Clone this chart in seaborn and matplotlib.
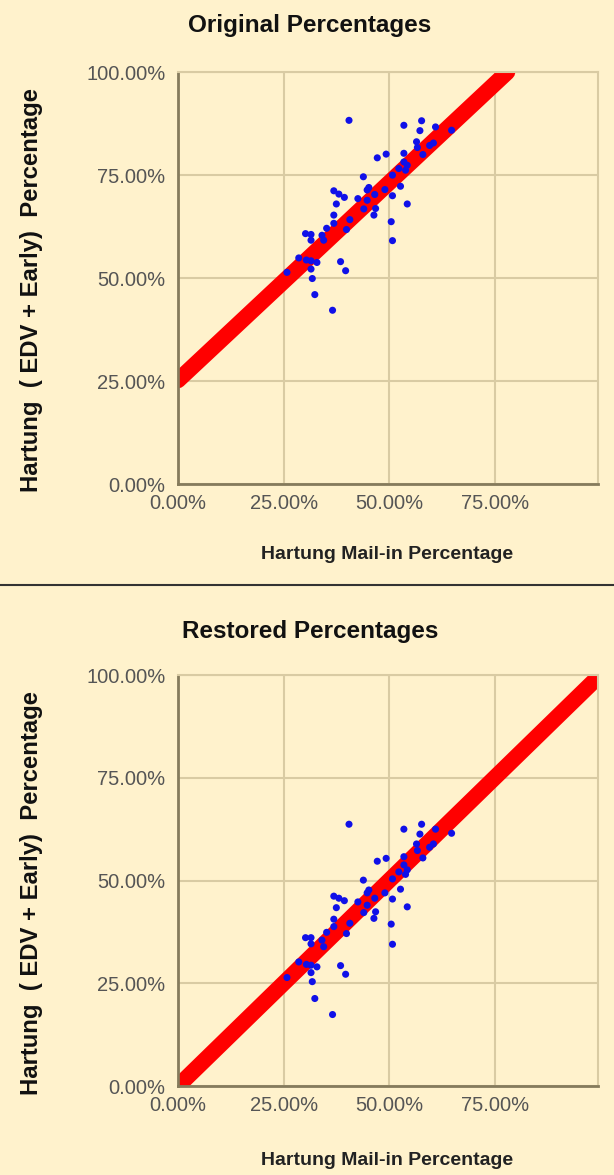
import numpy as np
import pandas as pd
import seaborn as sns
import matplotlib.pyplot as plt
from matplotlib.ticker import PercentFormatter
from matplotlib.lines import Line2D

# Mail-in share per precinct (same x for both panels)
mail_in = [0.405, 0.535, 0.577, 0.610, 0.648, 0.573, 0.565, 0.605, 0.596, 0.567,
           0.472, 0.493, 0.535, 0.535, 0.543, 0.523, 0.539, 0.508, 0.439, 0.527,
           0.452, 0.448, 0.369, 0.381, 0.394, 0.508, 0.426, 0.448, 0.375, 0.468,
           0.466, 0.543, 0.464, 0.369, 0.505, 0.407, 0.369, 0.399, 0.352, 0.302,
           0.315, 0.341, 0.345, 0.315, 0.508, 0.286, 0.304, 0.315, 0.329, 0.385,
           0.397, 0.315, 0.258, 0.318, 0.324, 0.366, 0.440, 0.490, 0.580]

# EDV + Early share, original
edv_orig = [0.883, 0.871, 0.882, 0.867, 0.859, 0.858, 0.831, 0.828, 0.822, 0.817,
            0.792, 0.801, 0.803, 0.782, 0.774, 0.766, 0.762, 0.750, 0.746, 0.723,
            0.720, 0.714, 0.712, 0.704, 0.696, 0.700, 0.693, 0.689, 0.680, 0.669,
            0.703, 0.680, 0.653, 0.653, 0.637, 0.642, 0.633, 0.618, 0.621, 0.608,
            0.606, 0.604, 0.592, 0.592, 0.591, 0.549, 0.544, 0.542, 0.538, 0.540,
            0.518, 0.522, 0.514, 0.499, 0.460, 0.422, 0.668, 0.715, 0.800]

# EDV + Early share, restored
edv_rest = [0.637, 0.625, 0.637, 0.625, 0.615, 0.613, 0.589, 0.589, 0.581, 0.573,
            0.547, 0.554, 0.558, 0.538, 0.526, 0.521, 0.515, 0.504, 0.501, 0.479,
            0.477, 0.470, 0.462, 0.457, 0.451, 0.455, 0.448, 0.440, 0.434, 0.424,
            0.457, 0.436, 0.408, 0.406, 0.394, 0.396, 0.388, 0.371, 0.374, 0.361,
            0.361, 0.355, 0.339, 0.346, 0.345, 0.302, 0.296, 0.294, 0.290, 0.293,
            0.272, 0.276, 0.264, 0.254, 0.213, 0.174, 0.422, 0.470, 0.555]

# trend lines
orig_line_x = [0.0, 0.78]
orig_line_y = [0.252, 1.0]
rest_line_x = [0.0, 0.99]
rest_line_y = [0.0, 0.99]

titles = ['Original Percentages', 'Restored Percentages']
x_label = 'Hartung Mail-in Percentage'
y_label = 'Hartung  ( EDV + Early)  Percentage'

bg = '#FFF2CC'
grid_c = '#D9CBA3'
axis_c = '#857B5C'

sns.set_style('whitegrid', {'axes.facecolor': bg, 'figure.facecolor': bg,
                            'grid.color': grid_c, 'axes.edgecolor': grid_c})
plt.rcParams['font.family'] = ['Liberation Sans', 'DejaVu Sans']

fig = plt.figure(figsize=(6.14, 11.75), dpi=100)
ax1 = fig.add_axes([0.290, 0.588, 0.684, 0.3506])
ax2 = fig.add_axes([0.290, 0.0757, 0.684, 0.3498])

panels = [(ax1, edv_orig, orig_line_x, orig_line_y, 1.114, -0.15),
          (ax2, edv_rest, rest_line_x, rest_line_y, 1.105, -0.16)]

for i, (ax, yvals, lx, ly, ty, xly) in enumerate(panels):
    df = pd.DataFrame({'mail': mail_in, 'edv': yvals})
    line_df = pd.DataFrame({'x': lx, 'y': ly})
    sns.lineplot(data=line_df, x='x', y='y', ax=ax, color='#FF0000',
                 linewidth=11.5, solid_capstyle='round', zorder=2)
    sns.scatterplot(data=df, x='mail', y='edv', ax=ax, color='#1010E8',
                    s=26, edgecolor='none', zorder=3)
    ax.set_xlim(0, 0.995)
    ax.set_ylim(0, 1.0)
    ax.set_xticks([0, 0.25, 0.5, 0.75])
    ax.set_yticks([0, 0.25, 0.5, 0.75, 1.0])
    ax.xaxis.set_major_formatter(PercentFormatter(1.0, decimals=2))
    ax.yaxis.set_major_formatter(PercentFormatter(1.0, decimals=2))
    ax.tick_params(axis='both', labelsize=14.5, labelcolor='#555555', length=0)
    ax.tick_params(axis='y', pad=9)
    ax.tick_params(axis='x', pad=7)
    ax.grid(True, color=grid_c, linewidth=1.5)
    for side in ['top', 'right']:
        ax.spines[side].set_color(grid_c)
        ax.spines[side].set_linewidth(1.5)
    for side in ['left', 'bottom']:
        ax.spines[side].set_color(axis_c)
        ax.spines[side].set_linewidth(2)
    ax.set_xlabel(x_label, fontsize=14, fontweight='bold', color='#222222')
    ax.xaxis.set_label_coords(0.498, xly)
    ax.set_ylabel(y_label, fontsize=17.2, fontweight='bold', color='#111111')
    ax.yaxis.set_label_coords(-0.321, 0.47)
    ax.text(0.314, ty, titles[i], transform=ax.transAxes, ha='center', va='center',
            fontsize=17.5, fontweight='bold', color='#111111')

# separator between the two charts
fig.add_artist(Line2D([0, 1], [0.502, 0.502], transform=fig.transFigure,
                      color='#333333', linewidth=1.5))

fig.savefig('out.png', dpi=100, facecolor=bg)
